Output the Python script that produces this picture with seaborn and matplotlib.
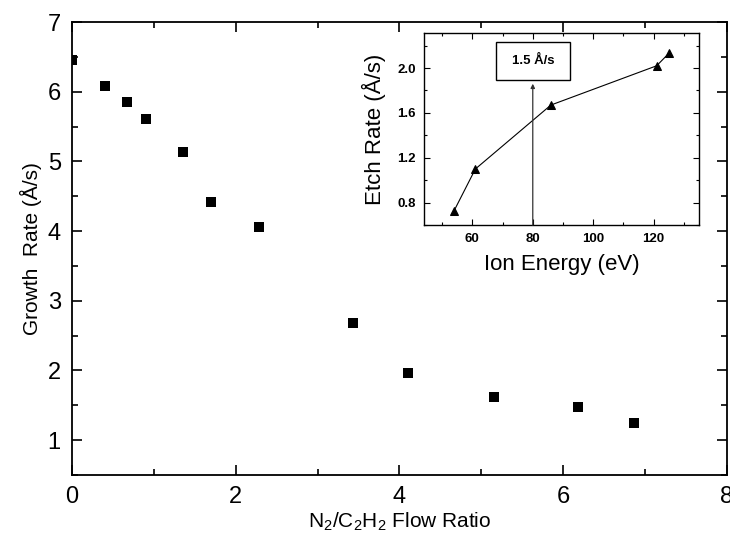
import matplotlib
matplotlib.use("Agg")
import matplotlib.pyplot as plt
import seaborn as sns
import pandas as pd
from matplotlib.ticker import MultipleLocator
from matplotlib.patches import Rectangle

# Main data
flow_ratio = [0.0, 0.40, 0.67, 0.91, 1.36, 1.70, 2.28, 3.43, 4.11, 5.15, 6.18, 6.87]
growth_rate = [6.45, 6.08, 5.85, 5.61, 5.14, 4.42, 4.06, 2.68, 1.97, 1.62, 1.48, 1.25]

# Inset data
ion_energy = [54, 61, 86, 121, 125]
etch_rate = [0.73, 1.10, 1.67, 2.02, 2.13]

main_xticks = [0, 2, 4, 6, 8]
main_yticks = [1, 2, 3, 4, 5, 6, 7]
inset_xticks = [60, 80, 100, 120]
inset_yticks = [0.8, 1.2, 1.6, 2.0]
box_label = "1.5 Å/s"

sns.set_style("ticks")
plt.rcParams['font.family'] = ['Liberation Sans', 'DejaVu Sans']
plt.rcParams['mathtext.fontset'] = 'custom'
plt.rcParams['mathtext.rm'] = 'Liberation Sans'
plt.rcParams['text.color'] = 'black'
plt.rcParams['axes.labelcolor'] = 'black'
plt.rcParams['xtick.color'] = 'black'
plt.rcParams['ytick.color'] = 'black'

fig = plt.figure(figsize=(7.3, 5.36), dpi=100)
ax = fig.add_axes([0.0986, 0.1138, 0.897, 0.845])

df = pd.DataFrame({"x": flow_ratio, "y": growth_rate})
sns.scatterplot(data=df, x="x", y="y", marker="s", s=55, color="black",
                edgecolor="black", linewidth=0, ax=ax, zorder=3)
ax.set_xlim(0, 8)
ax.set_ylim(0.5, 7)
ax.set_xticks(main_xticks)
ax.set_yticks(main_yticks)
ax.xaxis.set_minor_locator(MultipleLocator(1))
ax.yaxis.set_minor_locator(MultipleLocator(0.5))
ax.tick_params(which="both", direction="in", top=True, right=True, width=1.2,
               colors="black", labelcolor="black")
ax.tick_params(which="major", length=7, labelsize=17, pad=8)
ax.tick_params(which="minor", length=4)
ax.set_xlabel("N$_2$/C$_2$H$_2$ Flow Ratio", fontsize=15, labelpad=2, color="black")
ax.set_ylabel("Growth  Rate (Å/s)", fontsize=15, labelpad=4, color="black")
for s in ax.spines.values():
    s.set_linewidth(1.3)
    s.set_color("black")

# Inset
ax2 = fig.add_axes([0.5808, 0.580, 0.3767, 0.358])
idf = pd.DataFrame({"x": ion_energy, "y": etch_rate})
sns.lineplot(data=idf, x="x", y="y", marker="^", markersize=6, color="black",
             linewidth=0.8, markeredgecolor="black", ax=ax2)
ax2.set_xlim(44, 135)
ax2.set_ylim(0.6, 2.31)
ax2.set_xticks(inset_xticks)
ax2.set_yticks(inset_yticks)
ax2.set_yticklabels([f"{v:.1f}" for v in inset_yticks])
ax2.xaxis.set_minor_locator(MultipleLocator(10))
ax2.yaxis.set_minor_locator(MultipleLocator(0.2))
ax2.tick_params(which="both", direction="in", top=True, right=True, width=0.8,
                colors="black", labelcolor="black")
ax2.tick_params(which="major", length=4, labelsize=9.5, pad=6)
ax2.tick_params(which="minor", length=2)
for lab in ax2.get_xticklabels() + ax2.get_yticklabels():
    lab.set_fontweight("bold")
ax2.set_xlabel("Ion Energy (eV)", fontsize=16, labelpad=6, color="black")
ax2.set_ylabel("Etch Rate (Å/s)", fontsize=16, labelpad=8, color="black")
for s in ax2.spines.values():
    s.set_linewidth(1.0)
    s.set_color("black")

ax2.annotate("", xy=(80, 1.86), xytext=(80, 0.6),
             arrowprops=dict(arrowstyle="-|>", color="#333333", lw=0.9,
                             mutation_scale=6, shrinkA=0, shrinkB=0))
ax2.add_patch(Rectangle((67.8, 1.89), 24.6, 0.34, fill=False, edgecolor="black", linewidth=1.0))
ax2.text(80, 2.06, box_label, ha="center", va="center", fontsize=9.5, fontweight="bold")

fig.savefig("out.png", dpi=100)
